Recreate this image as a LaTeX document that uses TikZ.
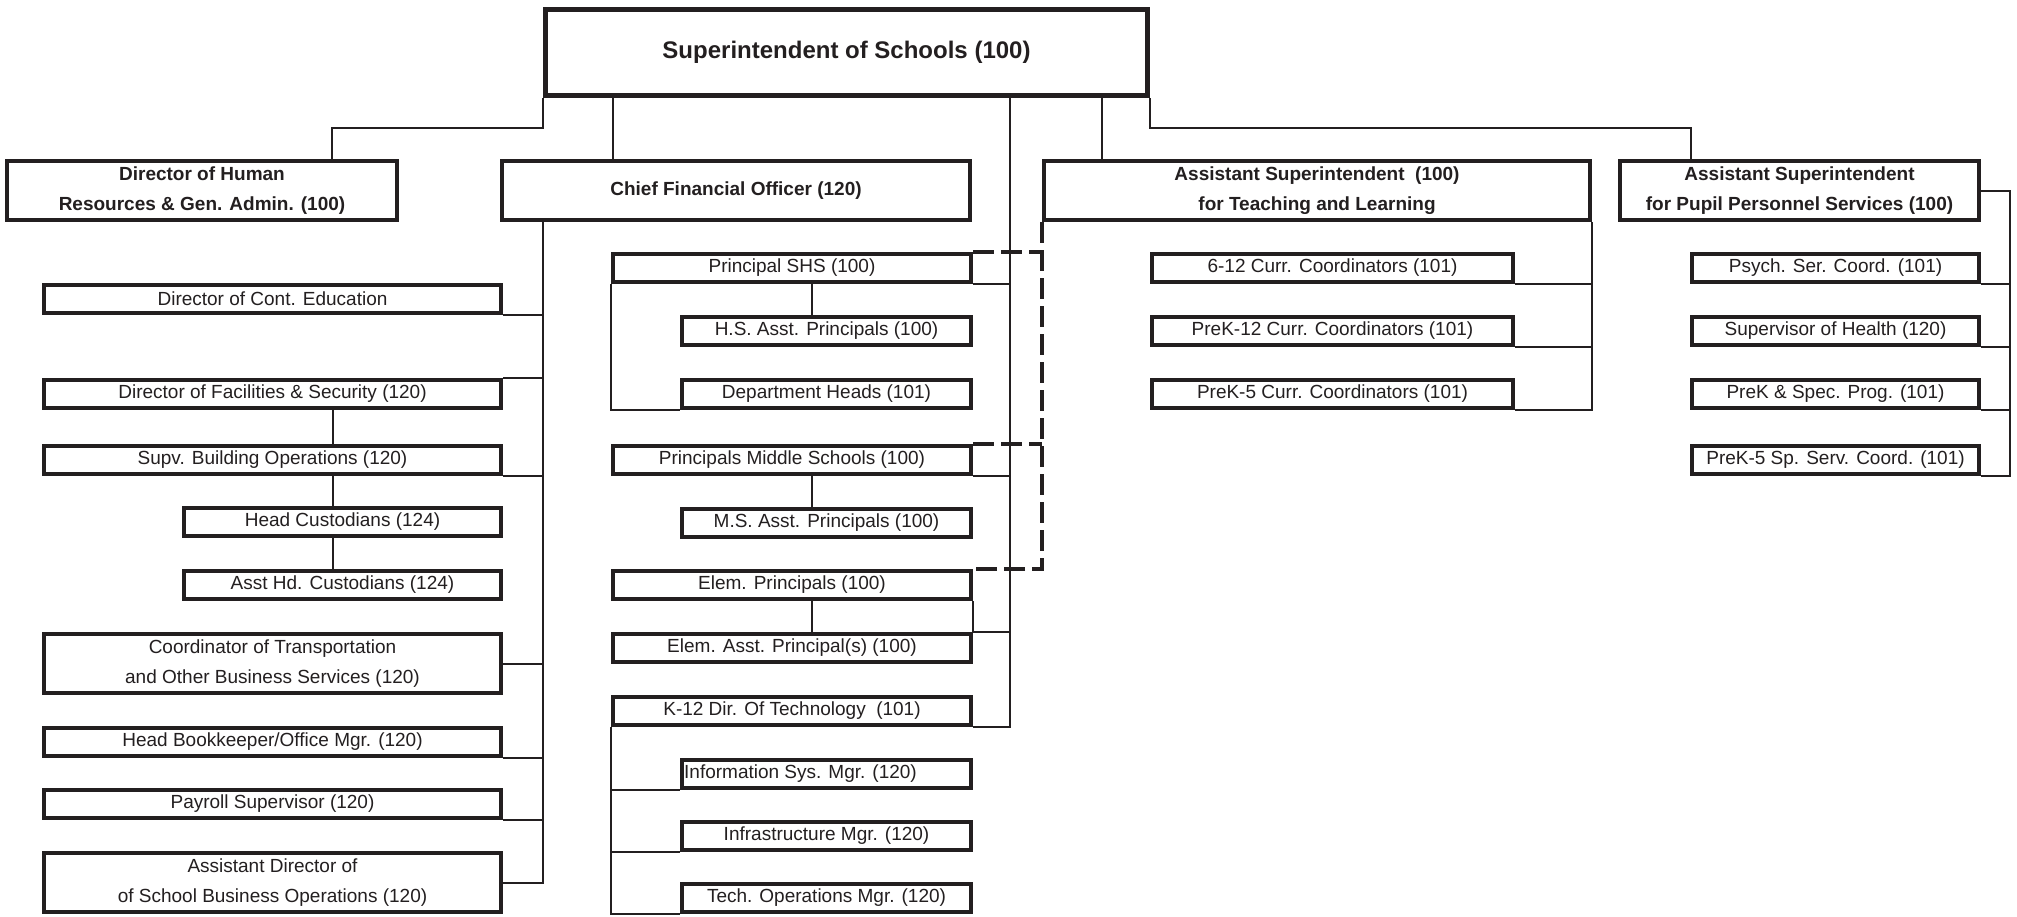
\documentclass[tikz,border=0pt]{standalone}
\usepackage{fontspec}
\setmainfont{Liberation Sans}
\usetikzlibrary{calc, positioning}
\definecolor{ink}{HTML}{231F20}

\begin{document}
\begin{tikzpicture}[
        x=0.5pt, y=-0.5pt,
        box/.style={rectangle, draw=ink, line width=2pt, fill=white, inner sep=0pt, align=center, minimum height=14pt, text=ink, font=\fontsize{9.5}{15}\selectfont},
        twoline/.style={minimum height=29.5pt},
        lbig/.style={box, minimum width=228.5pt},
        lsmall/.style={box, minimum width=158.5pt},
        mbig/.style={box, minimum width=179pt},
        msmall/.style={box, minimum width=144.5pt},
        tlkid/.style={box, minimum width=180.5pt},
        ppkid/.style={box, minimum width=143.5pt},
        head/.style={box, twoline, font=\bfseries\fontsize{9.5}{15}\selectfont},
        link/.style={draw=ink, line width=1pt},
        dashlink/.style={draw=ink, line width=2.25pt, dash pattern=on 10.5pt off 3.5pt}
    ]
    \useasboundingbox (0,0) rectangle (2017,916);

    \node[box, line width=2.5pt, minimum width=301pt, minimum height=43pt, font=\bfseries\fontsize{12}{15}\selectfont] (super) at (846.5,52.5) {Superintendent of Schools (100)};
    \node[head, minimum width=195pt] (hr) at (202,190.5) {Director of Human\\Resources \& Gen. Admin. (100)};
    \node[head, minimum width=234pt] (cfo) at (736,190.5) {Chief Financial Officer (120)};
    \node[head, minimum width=273pt] (tl) at (1317,190.5) {Assistant Superintendent\ \ (100)\\for Teaching and Learning};
    \node[head, minimum width=179.5pt] (pp) at (1799.5,190.5) {Assistant Superintendent\\for Pupil Personnel Services (100)};

    \node[lbig] (conted) at (272.5,298.5) {Director of Cont. Education};
    \node[lbig] (facil) at (272.5,393.5) {Director of Facilities \& Security (120)};
    \node[lbig] (supv) at (272.5,459.5) {Supv. Building Operations (120)};
    \node[lsmall] (headc) at (342.5,522) {Head Custodians (124)};
    \node[lsmall] (asstc) at (342.5,585) {Asst Hd. Custodians (124)};
    \node[lbig, twoline] (transp) at (272.5,663.5) {Coordinator of Transportation\\and Other Business Services (120)};
    \node[lbig] (bookk) at (272.5,741.5) {Head Bookkeeper/Office Mgr. (120)};
    \node[lbig] (payroll) at (272.5,804) {Payroll Supervisor (120)};
    \node[lbig, twoline] (asstdir) at (272.5,882.5) {Assistant Director of\\of School Business Operations (120)};

    \node[mbig] (shs) at (792,268) {Principal SHS (100)};
    \node[msmall] (hsap) at (826.5,331) {H.S. Asst. Principals (100)};
    \node[msmall] (depth) at (826.5,394) {Department Heads (101)};
    \node[mbig] (pms) at (792,460) {Principals Middle Schools (100)};
    \node[msmall] (msap) at (826.5,522.5) {M.S. Asst. Principals (100)};
    \node[mbig] (elemp) at (792,585) {Elem. Principals (100)};
    \node[mbig] (elema) at (792,647.5) {Elem. Asst. Principal(s) (100)};
    \node[mbig] (k12) at (792,710.5) {K-12 Dir. Of Technology\ \ (101)};
    \node[msmall] (infosys) at (826.5,773.5) {Information Sys. Mgr. (120)\hspace*{26pt}};
    \node[msmall] (infra) at (826.5,836) {Infrastructure Mgr. (120)};
    \node[msmall] (techops) at (826.5,898) {Tech. Operations Mgr. (120)};

    \node[tlkid] (c612) at (1332.5,268) {6-12 Curr. Coordinators (101)};
    \node[tlkid] (prek12c) at (1332.5,331) {PreK-12 Curr. Coordinators (101)};
    \node[tlkid] (prek5c) at (1332.5,394) {PreK-5 Curr. Coordinators (101)};

    \node[ppkid] (psych) at (1835.5,268) {Psych. Ser. Coord. (101)};
    \node[ppkid] (health) at (1835.5,331) {Supervisor of Health (120)};
    \node[ppkid] (speck) at (1835.5,394) {PreK \& Spec. Prog. (101)};
    \node[ppkid] (prek5sp) at (1835.5,460) {PreK-5 Sp. Serv. Coord. (101)};

    \coordinate (hrj) at (332,128);
    \coordinate (ppj) at (1691,128);
    \coordinate (cfoj) at (613,0);
    \coordinate (tlj) at (1102,0);
    \coordinate (spine) at (1010,0);
    \coordinate (cfol) at (543,0);
    \coordinate (custj) at (333,0);
    \coordinate (midj) at (812,0);
    \coordinate (ppr) at (2010,0);

    \draw[link] (super.south west) |- (hrj) -- (hrj |- hr.north);
    \draw[link] (super.south -| cfoj) -- (cfo.north -| cfoj);
    \draw[link] (super.south -| tlj) -- (tl.north -| tlj);
    \draw[link] (super.south east) |- (ppj) -- (ppj |- pp.north);
    \draw[link] (super.south -| spine) |- (k12.south east);

    \draw[link] (cfo.south -| cfol) |- (asstdir.east);
    \draw[link] (conted.south east) -- (conted.south east -| cfol);
    \draw[link] (facil.north east) -- (facil.north east -| cfol);
    \draw[link] (supv.south east) -- (supv.south east -| cfol);
    \draw[link] (transp.east) -- (transp.east -| cfol);
    \draw[link] (bookk.south east) -- (bookk.south east -| cfol);
    \draw[link] (payroll.south east) -- (payroll.south east -| cfol);
    \draw[link] (facil.south -| custj) -- (supv.north -| custj);
    \draw[link] (supv.south -| custj) -- (headc.north -| custj);
    \draw[link] (headc.south -| custj) -- (asstc.north -| custj);

    \draw[link] (shs.south -| midj) -- (hsap.north -| midj);
    \draw[link] (shs.south west) |- (depth.south west);
    \draw[link] (shs.south east) -- (shs.south east -| spine);
    \draw[link] (pms.south -| midj) -- (msap.north -| midj);
    \draw[link] (pms.south east) -- (pms.south east -| spine);
    \draw[link] (elemp.south -| midj) -- (elema.north -| midj);
    \draw[link] (elemp.south east) -- (elema.north east) -- (elema.north east -| spine);
    \draw[link] (k12.south west) |- (techops.south west);
    \draw[link] (k12.south west |- infosys.south) -- (infosys.south west);
    \draw[link] (k12.south west |- infra.south) -- (infra.south west);

    \draw[dashlink] (tl.south west) |- (elemp.north east);
    \draw[dashlink] (shs.north east) -- (shs.north east -| tl.south west);
    \draw[dashlink] (pms.north east) -- (pms.north east -| tl.south west);

    \draw[link] (tl.south east) |- (prek5c.south east);
    \draw[link] (c612.south east) -- (c612.south east -| tl.south east);
    \draw[link] (prek12c.south east) -- (prek12c.south east -| tl.south east);

    \draw[link] (pp.east) -| (ppr |- prek5sp.south) -- (prek5sp.south east);
    \draw[link] (psych.south east) -- (psych.south east -| ppr);
    \draw[link] (health.south east) -- (health.south east -| ppr);
    \draw[link] (speck.south east) -- (speck.south east -| ppr);
\end{tikzpicture}
\end{document}
